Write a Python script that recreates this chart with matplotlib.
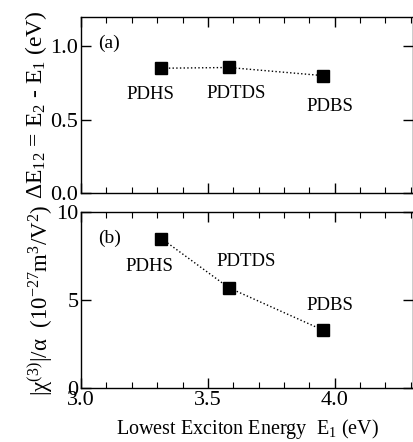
import matplotlib
matplotlib.use("Agg")
import matplotlib.pyplot as plt
from matplotlib.ticker import MultipleLocator

plt.rcParams['font.family'] = ['Liberation Serif', 'DejaVu Serif']
plt.rcParams['mathtext.fontset'] = 'custom'
plt.rcParams['mathtext.rm'] = 'Liberation Serif'
plt.rcParams['mathtext.it'] = 'Liberation Serif:italic'

names = ["PDHS", "PDTDS", "PDBS"]
E1 = [3.317, 3.583, 3.953]
dE12 = [0.85, 0.855, 0.80]
chi = [8.5, 5.7, 3.3]

lab_a = [(3.275, 0.67), (3.61, 0.68), (3.98, 0.59)]
lab_b = [(3.27, 6.9), (3.65, 7.2), (3.98, 4.7)]

fig = plt.figure(figsize=(4.14, 4.42), dpi=100)
ax1 = fig.add_axes([0.196, 0.563, 0.802, 0.399])
ax2 = fig.add_axes([0.196, 0.122, 0.802, 0.398])

for ax in (ax1, ax2):
    ax.set_xlim(3.0, 4.31)
    ax.xaxis.set_major_locator(MultipleLocator(0.5))
    ax.xaxis.set_minor_locator(MultipleLocator(0.1))
    ax.tick_params(which='both', direction='in', top=True, right=True, labelsize=16)
    ax.tick_params(which='major', length=7, width=1, pad=2)
    ax.tick_params(which='minor', length=4, width=0.8)
    for s in ax.spines.values():
        s.set_linewidth(1.0)

ax1.plot(E1, dE12, ls=':', color='black', lw=1, marker='s', ms=8, mfc='black', mec='black')
ax1.set_ylim(0, 1.2)
ax1.yaxis.set_major_locator(MultipleLocator(0.5))
ax1.tick_params(labelbottom=False)
ax1.set_ylabel(r"ΔE$_{12}$ = E$_2$ - E$_1$ (eV)", fontsize=17, labelpad=1)
ax1.text(0.05, 0.9, "(a)", transform=ax1.transAxes, fontsize=14, va='top')
for n, (x, y) in zip(names, lab_a):
    ax1.text(x, y, n, fontsize=13.5, ha='center', va='center')

ax2.plot(E1, chi, ls=':', color='black', lw=1, marker='s', ms=8, mfc='black', mec='black')
ax2.set_ylim(0, 10)
ax2.yaxis.set_major_locator(MultipleLocator(5))
ax2.set_ylabel(r"|χ$^{(3)}$|/α  (10$^{-27}$m$^3$/V$^2$)", fontsize=16.5, labelpad=1)
ax2.set_xlabel(r"Lowest Exciton Energy  E$_1$ (eV)", fontsize=14.5, labelpad=5)
ax2.text(0.05, 0.9, "(b)", transform=ax2.transAxes, fontsize=14, va='top')
for n, (x, y) in zip(names, lab_b):
    ax2.text(x, y, n, fontsize=13.5, ha='center', va='center')

fig.savefig("out.png", dpi=100)
